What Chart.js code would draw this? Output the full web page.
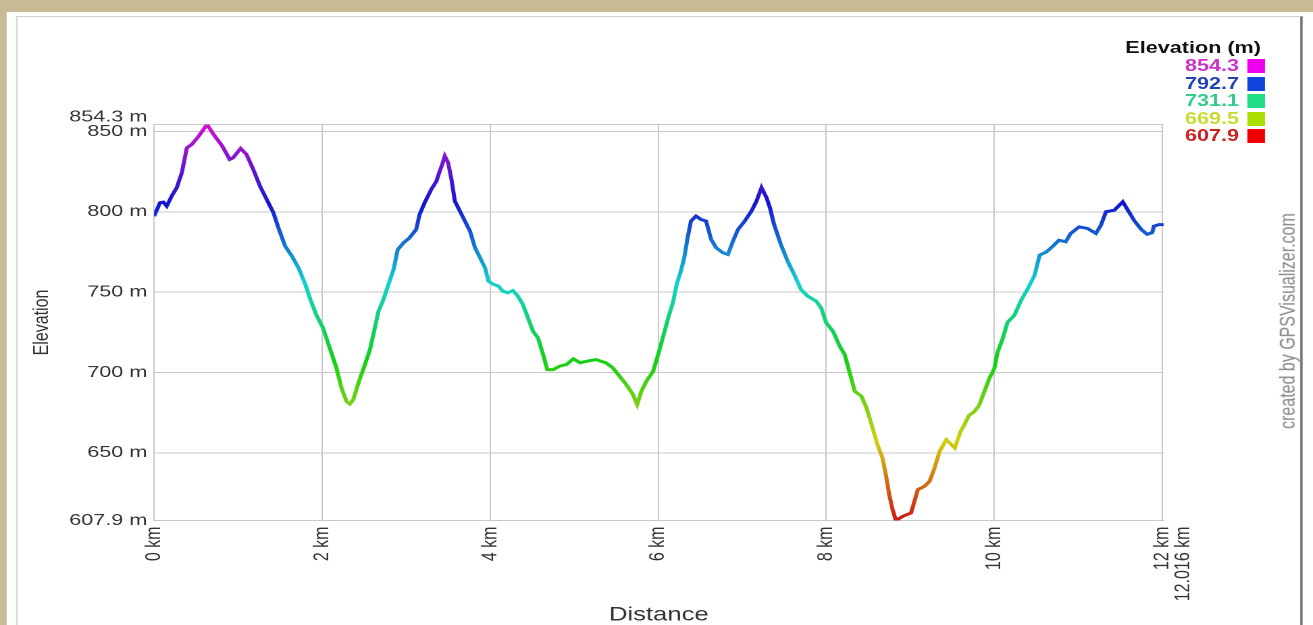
<!DOCTYPE html>
<html>
<head>
<meta charset="utf-8">
<script src="https://cdn.jsdelivr.net/npm/chart.js@4.4.1/dist/chart.umd.min.js"></script>
<style>
:root { --s: 1.35; }
html, body { margin: 0; padding: 0; }
body { width: 1313px; height: 625px; overflow: hidden; background: #c6bb95; font-family: "Liberation Sans", Arial, sans-serif; }
#wrap { position: absolute; left: 0; top: 0; width: calc(1313px / var(--s)); height: 625px; transform: scaleX(var(--s)); transform-origin: 0 0; }
#panel { position: absolute; left: calc(7px / var(--s)); top: 12px; right: 0; bottom: 0; background: #fff; }
#frame { position: absolute; left: calc(16px / var(--s)); top: 16px; width: calc(1283px / var(--s)); bottom: -5px;
  border-left: 1.5px solid #d0d0d0; border-top: 1.5px solid #d0d0d0; border-right: 2px solid #7a7a7a; }
#chartBox { position: absolute; left: 0; top: 0; width: 100%; height: 100%; }
#legend { position: absolute; right: calc(48px / var(--s)); top: 38px; text-align: right; font-weight: bold; font-size: 16px; }
#legend .ttl { line-height: 19px; color: #111; margin-right: calc(4px / var(--s)); }
#legend .row { line-height: 17.5px; height: 17.5px; }
#legend .box { display: inline-block; width: calc(18px / var(--s)); height: 14px; margin-left: calc(8px / var(--s)); vertical-align: -2px; }
#credit { position: absolute; left: calc(1288px / var(--s)); top: 321px; transform: translate(-50%, -50%) rotate(-90deg);
  white-space: nowrap; font-size: 16px; color: #878787; }
</style>
</head>
<body>
<div id="wrap">
  <div id="panel"></div>
  <div id="frame"></div>
  <div id="chartBox"><canvas id="chartElev"></canvas></div>
  <div id="legend"></div>
  <div id="credit">created by GPSVisualizer.com</div>
</div>
<script>
// distance along the track (km) and elevation (m)
const distKm = [0,0.07,0.11,0.15,0.21,0.27,0.33,0.39,0.45,0.53,
  0.63,0.71,0.81,0.90,0.94,1.03,1.10,1.18,1.26,1.34,
  1.42,1.48,1.56,1.64,1.72,1.80,1.86,1.93,2.01,2.09,
  2.17,2.23,2.29,2.33,2.37,2.44,2.51,2.57,2.61,2.67,
  2.73,2.79,2.85,2.90,2.97,3.04,3.12,3.16,3.22,3.30,
  3.36,3.40,3.43,3.46,3.50,3.54,3.58,3.64,3.70,3.76,
  3.82,3.88,3.94,3.98,4.04,4.10,4.15,4.21,4.27,4.33,
  4.39,4.45,4.51,4.57,4.63,4.68,4.75,4.83,4.91,4.99,
  5.07,5.15,5.26,5.38,5.46,5.54,5.62,5.70,5.75,5.80,
  5.86,5.94,6.00,6.06,6.12,6.18,6.22,6.27,6.31,6.35,
  6.39,6.45,6.51,6.57,6.63,6.69,6.77,6.83,6.89,6.95,
  7.03,7.11,7.17,7.23,7.29,7.33,7.38,7.46,7.54,7.62,
  7.70,7.78,7.88,7.94,8.00,8.08,8.16,8.22,8.28,8.34,
  8.42,8.48,8.54,8.61,8.67,8.71,8.75,8.79,8.83,8.91,
  9.01,9.05,9.09,9.17,9.23,9.29,9.35,9.43,9.53,9.60,
  9.64,9.70,9.76,9.82,9.88,9.94,10.00,10.04,10.10,10.16,
  10.24,10.32,10.40,10.48,10.54,10.62,10.69,10.77,10.85,10.91,
  11.01,11.11,11.21,11.27,11.33,11.43,11.53,11.59,11.67,11.75,
  11.82,11.88,11.90,11.96,12.016];
const elevM = [797.3,805.6,806,803.5,809.8,815,824.3,839.8,842,847,
  854.3,848,841,832.6,833.6,839.4,835.7,826.4,816,807.7,
  799.4,790,778.6,772.4,765,754.8,745.4,736,727.8,715.3,
  702.9,690.4,682,680.4,683,694.6,705,714.3,723.6,738,
  745.4,754.8,764,776.5,780.7,783.8,789,798.3,805.6,814,
  819,825.3,829.5,834.7,830.5,820,806.6,800.4,794.2,788,
  777.6,771.4,765,756.8,754.8,753.7,750.6,749.6,751,747.5,
  742.3,734,725.7,721.5,711.2,701.8,701.8,704,705,708.5,
  706,707,708,706,702.9,697.7,692.5,686.3,680,688.3,
  694.6,700.8,711.2,722.6,734,744.4,754.8,763,771.4,783.8,
  794.2,797.3,795.2,794.2,782.8,777.6,774.5,773.4,781.7,789,
  794.2,800.4,806.6,815,808.7,802.5,792,779.7,769.3,760.9,
  751.6,747.5,744.4,740.2,730.9,725.7,716.4,711.2,699.7,688.3,
  685.2,677.9,667.6,655.1,646.8,636.4,624,614.6,607.9,610.5,
  612.6,619.8,627.1,629.2,632.3,640.6,651,658.2,653,663.4,
  667,673.3,675.5,679.5,687.8,696.1,702.3,712.7,721,731.4,
  735.6,744.9,752.2,760.5,773,775,778.2,782.3,781.3,786.5,
  790.6,789.6,786.5,791.7,800,801,806.2,801,794.2,789,
  786,787,791,792,792];

const elevMin = 607.9;
const elevMax = 854.3;
const yTicks = [607.9, 650, 700, 750, 800, 850, 854.3];
const xTicks = [0, 2, 4, 6, 8, 10, 12];
const xEnd = 12.016;
const legendValues = ['854.3', '792.7', '731.1', '669.5', '607.9'];
const legendTextColors = ['#cc33cc', '#2244bb', '#33cc88', '#c8dc30', '#cc2222'];
const legendBoxColors = ['#ee00ee', '#1144dd', '#22dd88', '#aadd00', '#ee0000'];

const S = 1.35; // same as --s, the picture is stretched sideways
const FONT = '"Liberation Sans", Arial, sans-serif';

// legend
var legend = document.getElementById('legend');
var html = '<div class="ttl">Elevation (m)</div>';
for (var i = 0; i < legendValues.length; i++) {
  html += '<div class="row"><span style="color:' + legendTextColors[i] + '">' + legendValues[i] +
    '</span><span class="box" style="background:' + legendBoxColors[i] + '"></span></div>';
}
legend.innerHTML = html;

function elevGradient(context) {
  const chart = context.chart;
  if (!chart.chartArea) return '#2020c0';
  const ys = chart.scales.y;
  const g = chart.ctx.createLinearGradient(0, ys.getPixelForValue(elevMin), 0, ys.getPixelForValue(elevMax));
  for (let k = 0; k <= 10; k++) {
    g.addColorStop(k / 10, 'hsl(' + (k * 30) + ', 82%, 45%)');
  }
  return g;
}

const points = distKm.map((d, i) => ({x: d, y: elevM[i]}));

const configElev = {
  type: 'line',
  data: {
    datasets: [{
      data: points,
      borderColor: elevGradient,
      borderWidth: 3,
      pointRadius: 0,
      tension: 0,
      fill: false
    }]
  },
  options: {
    responsive: true,
    maintainAspectRatio: false,
    animation: false,
    devicePixelRatio: 2,
    layout: {
      padding: {left: 0, top: 124.5, right: (1313 - 1163) / S, bottom: 0}
    },
    plugins: {
      legend: {display: false},
      tooltip: {enabled: false}
    },
    scales: {
      x: {
        type: 'linear',
        min: 0,
        max: xEnd,
        afterBuildTicks: scale => { scale.ticks = xTicks.map(v => ({value: v})); },
        afterFit: scale => { scale.height = 625 - 520.5; },
        ticks: {
          autoSkip: false,
          minRotation: 90,
          maxRotation: 90,
          padding: 6,
          color: '#333',
          font: {family: FONT, size: 16, lineHeight: 0.98},
          callback: v => v === xTicks[xTicks.length - 1] ? [v + ' km', xEnd + ' km'] : v + ' km'
        },
        grid: {color: '#c8c8c8', lineWidth: 1, drawTicks: false},
        border: {display: true, color: '#c8c8c8'},
        title: {
          display: true,
          text: 'Distance',
          color: '#333',
          font: {family: FONT, size: 19},
          padding: {top: 0, bottom: -1.5}
        }
      },
      y: {
        min: elevMin,
        max: elevMax,
        afterBuildTicks: scale => { scale.ticks = yTicks.map(v => ({value: v})); },
        afterFit: scale => { scale.width = 154 / S; },
        ticks: {
          autoSkip: false,
          padding: 5,
          color: '#333',
          font: {family: FONT, size: 16, lineHeight: 0.95},
          callback: v => v === elevMax ? [v + ' m', ''] : v + ' m'
        },
        grid: {color: '#c8c8c8', lineWidth: 1, drawTicks: false},
        border: {display: true, color: '#c8c8c8'},
        title: {
          display: true,
          text: 'Elevation',
          color: '#333',
          font: {family: FONT, size: 16},
          padding: {top: 21.5, bottom: 0}
        }
      }
    }
  }
};

var chartElev = new Chart(document.getElementById('chartElev'), configElev);
</script>
</body>
</html>
